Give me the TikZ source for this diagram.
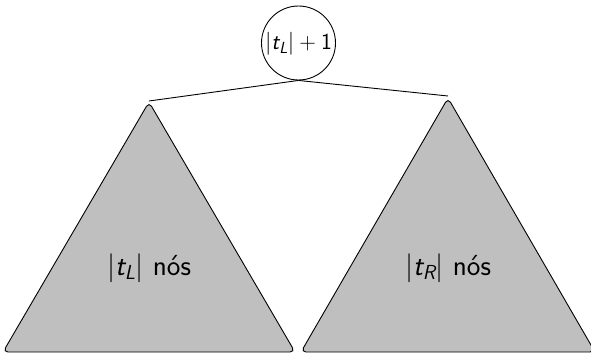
\RequirePackage{fix-cm}
\documentclass[tikz,border=0pt]{standalone}
\usepackage{amsmath}
\usepackage{fontspec}
% sans-serif oblique letters for the size labels
\newcommand{\sv}[1]{\text{\sffamily\itshape #1}}
\newcommand{\sn}[1]{\text{\sffamily #1}}
\begin{document}
\begin{tikzpicture}[x=1pt,y=-1pt,
  subtree/.style={draw=black,line width=0.9pt,fill=black!25,rounded corners=5pt},
  edge/.style={draw=black,line width=0.9pt},
  root/.style={draw=black,line width=0.9pt,circle,inner sep=0pt,minimum size=74pt},
  label/.style={font=\sffamily\fontsize{29}{34}\selectfont},
  rootlabel/.style={font=\sffamily\fontsize{23}{27}\selectfont}]
  \useasboundingbox (0,0) rectangle (591,353);
  \clip (0,0) rectangle (591,353);
  % left and right subtrees
  \path[subtree] (149,102) -- (295,352) -- (3,352) -- cycle;
  \path[subtree] (448,98) -- (595,352) -- (301,352) -- cycle;
  \coordinate (lt) at (149,101);
  \coordinate (rt) at (448,96);
  % root
  \node[root] (r) at (298.5,43) {};
  \node[rootlabel] (rl) at (298.5,44) {$|\sv{t}_{\sv{L}}|+\sn{1}$};
  \draw[edge] (r.south) -- (lt);
  \draw[edge] (r.south) -- (rt);
  % subtree sizes
  \node[label] (ls) at (149,268) {$|\sv{t}_{\sv{L}}|$ nós};
  \node[label] (rs) at (448,268) {$|\sv{t}_{\sv{R}}|$ nós};
\end{tikzpicture}
\end{document}
